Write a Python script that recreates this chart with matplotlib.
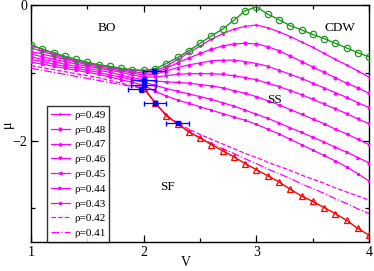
import numpy as np
import matplotlib
matplotlib.use("Agg")
import matplotlib.pyplot as plt
from matplotlib.ticker import MultipleLocator

plt.rcParams['font.family'] = ['Liberation Serif', 'DejaVu Serif']

# V grid used by every curve (0.1 steps)
v_all = [1.0, 1.1, 1.2, 1.3, 1.4, 1.5, 1.6, 1.7, 1.8, 1.9, 2.0,
         2.1, 2.2, 2.3, 2.4, 2.5, 2.6, 2.7, 2.8, 2.9, 3.0,
         3.1, 3.2, 3.3, 3.4, 3.5, 3.6, 3.7, 3.8, 3.9, 4.0]

# CDW / BO boundary (green circles)
mu_cdw = [-0.58, -0.65, -0.70, -0.75, -0.80, -0.84, -0.88, -0.90, -0.93, -0.95, -0.96,
          -0.94, -0.86, -0.77, -0.67, -0.56, -0.45, -0.35, -0.22, -0.08, -0.02,
          -0.13, -0.21, -0.30, -0.36, -0.43, -0.49, -0.56, -0.63, -0.70, -0.76]

# SF boundary (red triangles)
v_sf = [2.0, 2.1, 2.2, 2.3, 2.4, 2.5, 2.6, 2.7, 2.8, 2.9, 3.0,
        3.1, 3.2, 3.3, 3.4, 3.5, 3.6, 3.7, 3.8, 3.9, 4.0]
mu_sf = [-1.22, -1.44, -1.63, -1.75, -1.87, -1.96, -2.06, -2.15, -2.24, -2.34, -2.43,
         -2.52, -2.61, -2.72, -2.82, -2.90, -2.99, -3.08, -3.18, -3.30, -3.40]

# blue points with error bars
v_blue = [2.09, 2.00, 2.00, 1.98, 2.10, 2.30]
mu_blue = [-0.97, -1.10, -1.17, -1.24, -1.44, -1.74]
verr_blue = [0.10, 0.11, 0.11, 0.12, 0.10, 0.10]
muerr_blue = [0.03, 0.04, 0.04, 0.04, 0.02, 0.02]

# constant density curves
rho_labels = ['ρ=0.49', 'ρ=0.48', 'ρ=0.47', 'ρ=0.46', 'ρ=0.45',
              'ρ=0.44', 'ρ=0.43', 'ρ=0.42', 'ρ=0.41']
mu_049 = [-0.59, -0.65, -0.71, -0.76, -0.81, -0.85, -0.88, -0.91, -0.94, -0.96, -0.97,
          -0.97, -0.90, -0.80, -0.70, -0.60, -0.50, -0.42, -0.35, -0.31, -0.29,
          -0.33, -0.39, -0.46, -0.54, -0.62, -0.71, -0.80, -0.88, -0.97, -1.06]
mu_048 = [-0.63, -0.68, -0.73, -0.78, -0.82, -0.86, -0.89, -0.92, -0.95, -0.98, -1.00,
          -1.00, -0.93, -0.85, -0.78, -0.71, -0.65, -0.60, -0.57, -0.56, -0.57,
          -0.61, -0.67, -0.75, -0.83, -0.91, -0.99, -1.07, -1.15, -1.22, -1.30]
mu_047 = [-0.68, -0.72, -0.76, -0.80, -0.84, -0.88, -0.91, -0.94, -0.97, -1.00, -1.03,
          -1.02, -0.97, -0.92, -0.88, -0.85, -0.82, -0.81, -0.81, -0.83, -0.86,
          -0.90, -0.96, -1.02, -1.08, -1.15, -1.22, -1.29, -1.36, -1.44, -1.51]
mu_046 = [-0.72, -0.76, -0.80, -0.83, -0.87, -0.90, -0.93, -0.96, -0.99, -1.03, -1.06,
          -1.06, -1.04, -1.02, -1.01, -1.01, -1.01, -1.02, -1.04, -1.07, -1.10,
          -1.15, -1.20, -1.26, -1.32, -1.39, -1.46, -1.53, -1.60, -1.68, -1.75]
mu_045 = [-0.76, -0.80, -0.83, -0.87, -0.90, -0.93, -0.96, -0.99, -1.03, -1.07, -1.10,
          -1.12, -1.13, -1.14, -1.15, -1.17, -1.19, -1.22, -1.26, -1.30, -1.35,
          -1.41, -1.47, -1.54, -1.61, -1.68, -1.75, -1.83, -1.90, -1.98, -2.06]
mu_044 = [-0.80, -0.83, -0.87, -0.90, -0.93, -0.96, -0.99, -1.03, -1.06, -1.10, -1.14,
          -1.18, -1.23, -1.27, -1.31, -1.35, -1.39, -1.44, -1.49, -1.55, -1.61,
          -1.67, -1.74, -1.81, -1.88, -1.95, -2.02, -2.10, -2.17, -2.25, -2.33]
mu_043 = [-0.84, -0.87, -0.90, -0.93, -0.96, -0.99, -1.02, -1.06, -1.10, -1.14, -1.18,
          -1.27, -1.34, -1.40, -1.45, -1.50, -1.55, -1.60, -1.65, -1.70, -1.76,
          -1.83, -1.90, -1.98, -2.06, -2.14, -2.22, -2.30, -2.39, -2.49, -2.60]
mu_042 = [-0.89, -0.92, -0.95, -0.98, -1.01, -1.04, -1.07, -1.11, -1.15, -1.19, -1.22,
          -1.44, -1.62, -1.74, -1.83, -1.91, -1.98, -2.05, -2.12, -2.19, -2.25,
          -2.32, -2.38, -2.44, -2.51, -2.57, -2.63, -2.70, -2.76, -2.82, -2.88]
mu_041 = [-0.93, -0.96, -0.99, -1.02, -1.05, -1.08, -1.11, -1.14, -1.17, -1.20, -1.23,
          -1.44, -1.63, -1.75, -1.87, -1.96, -2.04, -2.12, -2.19, -2.27, -2.34,
          -2.42, -2.49, -2.56, -2.64, -2.71, -2.78, -2.86, -2.93, -3.01, -3.08]

mu_rho = [mu_049, mu_048, mu_047, mu_046, mu_045, mu_044, mu_043, mu_042, mu_041]
styles = [('-', '.'), ('-', 'o'), ('-', '^'), ('-', 'v'), ('-', '<'),
          ('-', '>'), ('-', '*'), ('--', None), ('-.', None)]

magenta = '#ff00ff'
green = '#1e9a1e'

fig, ax = plt.subplots(figsize=(3.74, 2.71), dpi=100)
fig.subplots_adjust(left=0.083, right=0.987, top=0.980, bottom=0.107)

for mu, (ls, mk), lab in zip(mu_rho, styles, rho_labels):
    ax.plot(v_all, mu, color=magenta, ls=ls, lw=0.9, marker=mk, ms=2.0,
            label=lab, zorder=3)

ax.plot(v_all, mu_cdw, color=green, lw=1.0, marker='o', ms=4.6,
        mfc='none', mec=green, mew=0.9, zorder=4)
ax.plot(v_sf, mu_sf, color='red', lw=1.0, marker='^', ms=4.8,
        mfc='none', mec='red', mew=0.9, zorder=4)
ax.errorbar(v_blue, mu_blue, xerr=verr_blue, yerr=muerr_blue, fmt='s',
            color='blue', ms=3.5, elinewidth=0.9, capsize=1.8, zorder=5)

ax.text(1.67, -0.33, 'BO', fontsize=9.5, ha='center', va='center')
ax.text(3.74, -0.33, 'CDW', fontsize=9.5, ha='center', va='center')
ax.text(3.16, -1.40, 'SS', fontsize=9.5, ha='center', va='center')
ax.text(2.21, -2.68, 'SF', fontsize=9.5, ha='center', va='center')

ax.set_xlim(1, 4)
ax.set_ylim(-3.5, 0)
ax.xaxis.set_major_locator(MultipleLocator(1))
ax.xaxis.set_minor_locator(MultipleLocator(0.5))
ax.yaxis.set_major_locator(MultipleLocator(2))
ax.yaxis.set_minor_locator(MultipleLocator(1))
ax.tick_params(which='both', direction='in', top=True, right=True,
               labelsize=10, width=0.9)
ax.tick_params(which='major', length=5, pad=3)
ax.tick_params(which='minor', length=3)
for s in ax.spines.values():
    s.set_linewidth(1.0)

fig.text(7 / 374, 1 - 124 / 271, 'μ', fontsize=10, rotation=90,
         ha='center', va='center')
fig.text(186 / 374, 1 - 262 / 271, 'V', fontsize=10,
         ha='center', va='center')

leg = ax.legend(loc='lower left', bbox_to_anchor=(0.047, 0.0), fontsize=8,
                frameon=True, fancybox=False, edgecolor='black',
                handlelength=1.7, handletextpad=0.4, labelspacing=0.45,
                borderpad=0.35, borderaxespad=0.0)
leg.get_frame().set_linewidth(1.0)

plt.savefig('out.png', dpi=100)
